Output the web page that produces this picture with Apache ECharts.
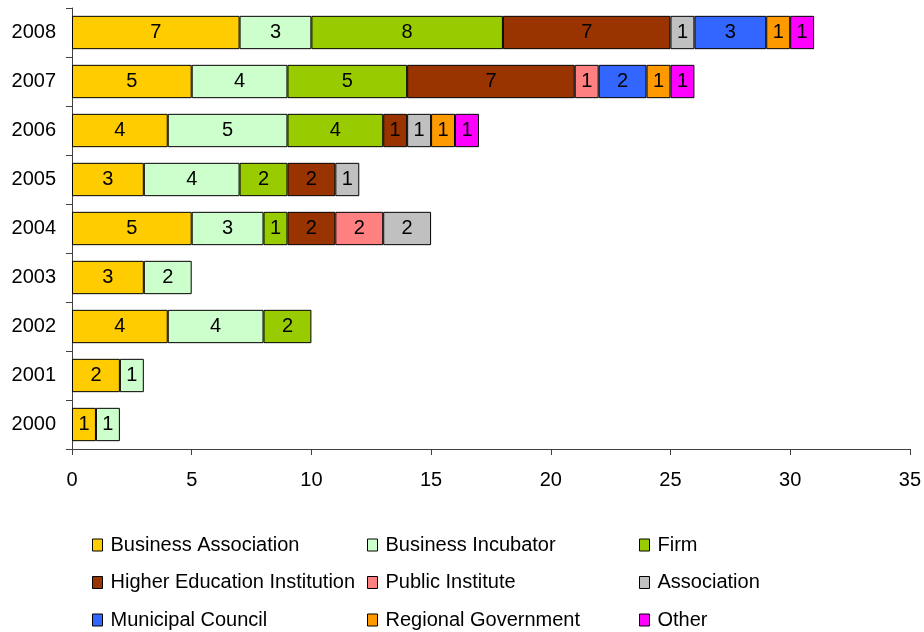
<!DOCTYPE html>
<html>
<head>
<meta charset="utf-8">
<script src="https://cdn.jsdelivr.net/npm/echarts@6/dist/echarts.min.js"></script>
<style>
html,body{margin:0;padding:0;background:#fff;}
#c{width:924px;height:632px;}
</style>
</head>
<body>
<div id="c"></div>
<script>
var years = ['2000','2001','2002','2003','2004','2005','2006','2007','2008'];
var xTicks = [0,5,10,15,20,25,30,35];
var businessAssociation = [1,2,4,3,5,3,4,5,7];
var businessIncubator   = [1,1,4,2,3,4,5,4,3];
var firm                = [null,null,2,null,1,2,4,5,8];
var higherEducation     = [null,null,null,null,2,2,1,7,7];
var publicInstitute     = [null,null,null,null,2,null,null,1,null];
var association         = [null,null,null,null,2,1,1,null,1];
var municipalCouncil    = [null,null,null,null,null,null,null,2,3];
var regionalGovernment  = [null,null,null,null,null,null,1,1,1];
var other               = [null,null,null,null,null,null,1,1,1];

var seriesNames = ['Business Association','Business Incubator','Firm','Higher Education Institution','Public Institute','Association','Municipal Council','Regional Government','Other'];
var seriesData = [businessAssociation,businessIncubator,firm,higherEducation,publicInstitute,association,municipalCouncil,regionalGovernment,other];
var colors = ['#FFCC00','#CCFFCC','#99CC00','#993300','#FF8080','#C0C0C0','#3366FF','#FF9900','#FF00FF'];

var FONT = 'Liberation Sans';
var series = seriesNames.map(function(n,i){
  return {
    name:n, type:'bar', stack:'total', data:seriesData[i],
    barCategoryGap:'32%',
    itemStyle:{color:colors[i], borderColor:'#000', borderWidth:1},
    label:{show:true, position:'inside', color:'#000', fontFamily:FONT, fontSize:20,
      formatter:function(p){return p.value==null?'':String(p.value);}},
    emphasis:{disabled:true},
    animation:false
  };
});

function legendCol(names,left){
  return {
    orient:'vertical', left:left, top:535, height:97, padding:0,
    icon:'rect', itemWidth:10, itemHeight:12, itemGap:17.5,
    itemStyle:{borderColor:'#000', borderWidth:1},
    data:names, selectedMode:false,
    textStyle:{fontFamily:FONT, fontSize:20, color:'#000', padding:[0,0,0,3]}
  };
}

var chart = echarts.init(document.getElementById('c'));
chart.setOption({
  animation:false,
  backgroundColor:'#fff',
  grid:{left:72, right:14, top:8, bottom:183, containLabel:false},
  legend:[
    legendCol([seriesNames[0],seriesNames[3],seriesNames[6]],92),
    legendCol([seriesNames[1],seriesNames[4],seriesNames[7]],367),
    legendCol([seriesNames[2],seriesNames[5],seriesNames[8]],639)
  ],
  xAxis:{
    type:'value', min:xTicks[0], max:xTicks[xTicks.length-1], interval:5,
    splitLine:{show:false},
    axisLine:{show:true, lineStyle:{color:'#404040', width:1}},
    axisTick:{show:true, length:6, lineStyle:{color:'#404040'}},
    axisLabel:{fontFamily:FONT, fontSize:20, color:'#000', margin:21}
  },
  yAxis:{
    type:'category', data:years,
    axisLine:{show:true, lineStyle:{color:'#404040', width:1}},
    axisTick:{show:true, length:6, lineStyle:{color:'#404040'}},
    axisLabel:{fontFamily:FONT, fontSize:20, color:'#000', margin:16}
  },
  series:series
});
</script>
</body>
</html>
